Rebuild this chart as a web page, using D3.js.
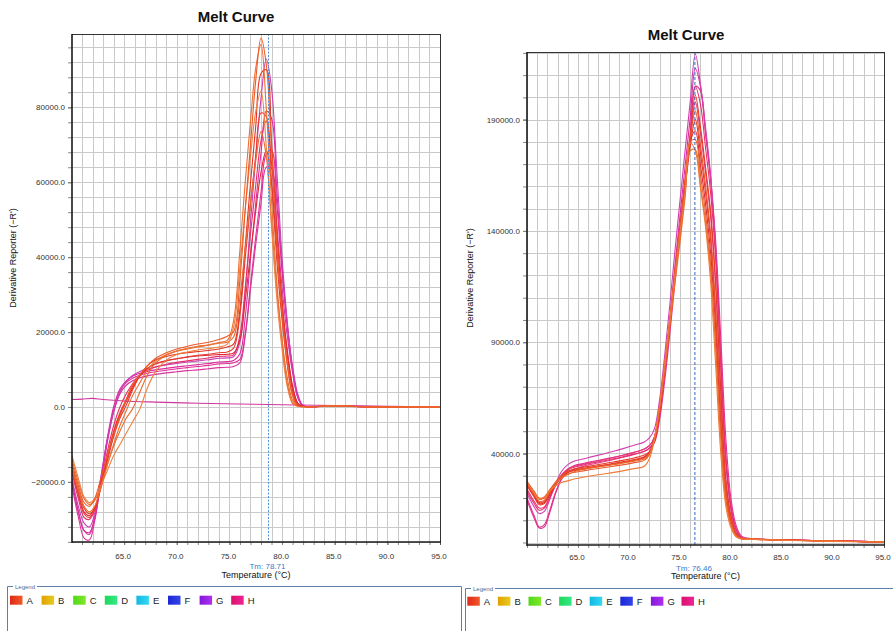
<!DOCTYPE html>
<html><head><meta charset="utf-8">
<script src="https://cdn.jsdelivr.net/npm/d3@7"></script>
<style>
body{margin:0;background:#fff}
svg{display:block}
text{font-family:Arial,"Liberation Sans",sans-serif}
</style>
</head><body>
<svg id="chart" width="893" height="631"></svg>
<script>
// ---------------- DATA ----------------
const chartTitle = "Melt Curve";
const xAxisTitle = "Temperature (°C)";
const yAxisTitle = "Derivative Reporter (\u2212R')";
const xTickLabels = [65, 70, 75, 80, 85, 90, 95];
const leftYTickLabels = [-20000, 0, 20000, 40000, 60000, 80000];
const rightYTickLabels = [40000, 90000, 140000, 190000];
const leftTm = 78.71;
const rightTm = 76.46;
const legendWells = ["A","B","C","D","E","F","G","H"];
const legendColorsFrom = ["#e02818","#e0a000","#50d81a","#1ed858","#12b8e0","#1a28d4","#8418dc","#dc106c"];
const legendColorsTo   = ["#f05a2a","#e8cc20","#80e828","#36e888","#34d8f4","#3444ea","#b030ee","#ee2498"];

// Left panel temperatures (°C)
const leftTemps = [60.05,60.7,61.2,61.7,62.2,62.8,63.4,64.0,64.6,65.2,65.8,66.5,67.2,68,69,70,71,72,73,74,74.8,75.4,76,76.5,77,77.5,78,78.5,79,79.5,80,80.5,81,81.5,82,83,85,88,95];
const leftM1 = [-19000,-27000,-31000,-32000,-28500,-18500,-8500,-1000,4000,6800,8400,9500,10200,10700,11200,11600,12000,12300,12600,13000,13100,13400,17300,30700,49300,66700,82400,92900,85200,63200,39900,22700,9800,2400,300,100,300,100,0];
const leftM2 = [-20000,-28500,-33000,-33500,-29500,-19000,-8500,0,4800,7000,8200,9000,9500,9900,10300,10700,11000,11300,11600,12000,12100,12400,14200,23900,39500,54400,67800,79000,77000,57900,37400,21900,10200,2800,300,100,300,100,0];
const leftM3 = [-21000,-30000,-35000,-35500,-30500,-19500,-9000,-1000,4200,6500,7700,8500,9000,9400,9800,10200,10500,10800,11100,11500,11600,11800,12700,19500,32500,45500,57300,67500,68500,54200,36100,21600,10800,3400,400,100,300,100,0];
const leftM4 = [-19500,-28500,-33000,-34000,-30000,-20000,-9500,-1500,3500,5800,7000,7800,8300,8700,9100,9400,9700,9900,10200,10500,10600,10800,11800,18900,31400,43400,54300,64000,63800,48800,31900,18900,9100,2600,300,100,300,100,0];
const leftR1 = [-16000,-22500,-27000,-28500,-27000,-21500,-14500,-8000,-3000,500,4500,8500,11000,12600,13500,14100,14500,14800,15100,15500,16000,16800,26100,42900,59700,75000,89000,90000,70900,47300,28200,14100,4400,600,150,100,300,100,0];
const leftR2 = [-17000,-24000,-28500,-29500,-27500,-21000,-13500,-6500,-1500,2000,5500,8500,10300,11500,12300,12900,13400,13800,14100,14500,14700,15700,24600,39700,54100,67200,78500,77500,60000,39200,23200,11200,3200,400,120,100,300,100,0];
const leftR3 = [-17500,-25000,-29500,-30000,-27500,-20000,-12000,-5000,0,3500,6200,8500,9800,10700,11400,11900,12300,12700,13100,13500,13600,13900,19200,31700,46200,59200,71100,76400,65100,45700,27900,15100,5500,1000,200,100,300,100,0];
const leftR4 = [-16500,-23500,-28000,-29000,-27000,-21000,-13500,-7000,-2000,1500,5000,8200,10300,11600,12400,12900,13300,13600,13800,14000,14100,14400,18000,28400,40900,52400,62700,68500,59600,42500,26000,14400,5500,1000,200,100,300,100,0];
const leftO1 = [-15000,-21500,-25500,-26500,-24500,-19000,-13000,-7500,-2500,2000,6000,8500,11000,13000,14500,15500,16200,16800,17300,18000,18900,20100,34100,52600,70000,87200,98500,91500,69100,44200,25500,11500,3000,300,100,100,250,80,0];
const leftO2 = [-16500,-22500,-26500,-28000,-26500,-21500,-15500,-10000,-5000,-1000,3000,6500,9800,12300,14000,15000,15700,16200,16600,17200,17800,23100,42000,60000,76300,90500,96800,79700,55100,33400,17700,6200,1100,200,100,100,300,100,0];
const leftO3 = [-13000,-19500,-24000,-25500,-24500,-21000,-17000,-13000,-10000,-7000,-4000,-500,5000,9500,12500,14000,14700,15200,15600,16000,16800,21300,37400,52800,66800,78900,84300,69500,48000,29100,15400,5400,900,200,100,100,300,100,0];
const leftO4 = [-14000,-20500,-24500,-26000,-25000,-21000,-15500,-10500,-6500,-3000,-500,4000,8500,11800,13800,14900,15500,16000,16500,17000,17300,18700,29300,42400,54600,65700,73500,67000,49700,31400,17900,7700,1800,300,100,100,300,100,0];
// no-template control (flat line) in left panel
const ntcTemps = [60.05,61,62,63,65,68,72,76,80,85,90,95];
const ntcValues = [2000,2100,2300,2000,1600,1300,1000,800,600,400,200,0];

// Right panel temperatures (°C)
const rightTemps = [60.0,60.7,61.2,61.7,62.2,62.8,63.4,64.0,64.6,65.5,66.5,67.5,68.5,69.5,70.5,71.5,72,72.5,73,73.5,74,74.5,75,75.5,76,76.5,77,77.5,78,78.5,79,79.5,80,80.5,81,82,84,87,90,95];
const rightS1 = [26500,21500,18500,19000,22500,26500,29000,30500,31800,32800,33600,34300,35000,35700,36500,37500,39700,46800,60400,78000,97100,116400,134800,155000,176000,176500,160900,144000,121700,87100,46800,19100,8000,3000,1800,1500,1200,900,600,300];
const rightS2 = [27000,22500,19500,20500,23000,25500,27000,27700,28500,29300,30100,30800,31500,32300,33200,34300,37600,46500,61800,80300,100300,120000,139100,157700,179500,176000,159400,142000,117200,79400,40000,16200,6600,2500,1600,1400,1100,800,500,200];
const rightS3 = [26000,21000,17500,18000,21500,26000,29500,31500,32500,33300,34000,34800,35600,36400,37300,38500,40400,46500,59900,78500,98700,119700,139500,159200,178000,190000,175100,157400,135900,102100,57600,23600,9800,3700,1800,1500,1300,900,600,300];
const rightS4 = [25500,20500,17000,17500,21000,26000,30000,32000,33000,33800,34600,35400,36200,37000,38000,39300,40800,45100,58000,77300,98200,120700,141500,162400,182500,201000,186900,168800,148700,116600,68300,28100,11900,4200,1900,1600,1300,1000,700,300];
const rightS5 = [27000,22500,19500,20000,23000,27000,30000,31800,32600,33200,33900,34500,35200,36000,36900,38000,39900,46200,60000,79200,99900,121600,142000,162200,181600,194000,178800,160700,138800,104300,58800,24100,10000,3700,1800,1500,1200,900,600,300];
const rightS6 = [24000,18500,15500,16000,20000,25500,30000,32500,33800,34800,35800,36700,37600,38600,39700,41000,42400,46000,57500,75700,97100,119900,141700,163100,183900,205000,197000,177600,157300,126700,80300,37300,15700,6000,2300,1600,1300,1000,700,300];
const rightS7 = [19000,11000,6500,7000,13000,22000,29000,33000,34500,35500,36500,37400,38300,39300,40500,42000,43500,47100,59200,78100,100400,124200,146900,169200,190900,213000,205000,184500,163400,131600,83400,38700,16300,6100,2400,1700,1300,1000,700,300];
const rightS8 = [22000,16000,13000,14000,19000,26500,32000,35000,36500,37500,38700,39800,41000,42300,43700,45200,47000,51200,64200,84100,106700,130800,153600,176100,198000,219500,206100,186800,165000,131100,80100,35200,14900,5400,2200,1600,1300,1000,700,300];
const rightS9 = [20000,12000,7000,8000,14000,22500,28500,31500,33000,34200,35300,36300,37300,38400,39600,41000,42300,45000,55100,72600,93700,116600,139100,160900,182300,205000,203000,184000,163800,135200,91600,46200,19500,7700,3000,1700,1300,1000,700,300];
const rightS10 = [26500,21500,18000,18500,22000,26500,29800,31500,32300,33000,33700,34500,35300,36100,37000,38200,40500,47200,60900,79200,99000,119400,138700,157900,180000,185000,169800,152300,130100,95500,52600,21600,8900,3500,1800,1500,1200,900,600,300];
const rightS11 = [27500,23000,20000,20500,23500,27000,29500,30800,31500,32200,32900,33600,34300,35000,35900,36900,39600,46900,61100,79300,99000,119100,138200,157000,180000,181000,165400,148000,125100,89500,48100,19600,8000,3000,1700,1500,1200,900,600,300];
const rightS12 = [23000,17500,14500,15500,20000,26000,30500,33000,34200,35200,36200,37200,38200,39300,40500,42000,43500,47700,60100,78700,98800,120500,140700,160800,180200,198000,184100,166300,146500,114800,67300,27700,11700,4200,1900,1600,1300,1000,700,300];

// ---------------- DRAW ----------------
const svg = d3.select("#chart");
const defs = svg.append("defs");

const leftSeries = [
  {t: ntcTemps, v: ntcValues, c: "#d0379e"},
  {t: leftTemps, v: leftM3, c: "#e4309a"},
  {t: leftTemps, v: leftM4, c: "#d8349e"},
  {t: leftTemps, v: leftM2, c: "#dc2c9c"},
  {t: leftTemps, v: leftM1, c: "#c840b4"},
  {t: leftTemps, v: leftR3, c: "#e8306a"},
  {t: leftTemps, v: leftR4, c: "#e02838"},
  {t: leftTemps, v: leftR2, c: "#e63c30"},
  {t: leftTemps, v: leftR1, c: "#e43424"},
  {t: leftTemps, v: leftO4, c: "#e86a30"},
  {t: leftTemps, v: leftO3, c: "#f08040"},
  {t: leftTemps, v: leftO2, c: "#ec7032"},
  {t: leftTemps, v: leftO1, c: "#ee5a28"}
];
const rightSeries = [
  {t: rightTemps, v: rightS7, c: "#dd2c9a"},
  {t: rightTemps, v: rightS9, c: "#e4308a"},
  {t: rightTemps, v: rightS8, c: "#d040b0"},
  {t: rightTemps, v: rightS12, c: "#e53c78"},
  {t: rightTemps, v: rightS6, c: "#e8306a"},
  {t: rightTemps, v: rightS4, c: "#e43a2a"},
  {t: rightTemps, v: rightS3, c: "#e8321e"},
  {t: rightTemps, v: rightS10, c: "#e02a3a"},
  {t: rightTemps, v: rightS5, c: "#ea5028"},
  {t: rightTemps, v: rightS11, c: "#ea5a2e"},
  {t: rightTemps, v: rightS1, c: "#ec6a2c"},
  {t: rightTemps, v: rightS2, c: "#ee7a36"}
];

function drawPanel(cfg) {
  const g = svg.append("g");
  const x = d3.scaleLinear().domain(cfg.xDomain).range([cfg.x0, cfg.x1]);
  const y = d3.scaleLinear().domain(cfg.yDomain).range([cfg.y1, cfg.y0]);

  // grid
  const vGrid = d3.range(Math.ceil(cfg.xDomain[0]), 95, 1);
  const hGrid = d3.range(Math.ceil(cfg.yDomain[0] / cfg.gridStep) * cfg.gridStep, cfg.yDomain[1], cfg.gridStep);
  g.append("g").selectAll("line").data(vGrid).join("line")
    .attr("x1", d => Math.round(x(d)) + 0.5).attr("x2", d => Math.round(x(d)) + 0.5)
    .attr("y1", cfg.y0).attr("y2", cfg.y1)
    .attr("stroke", "#c9c9c9").attr("stroke-width", 1);
  g.append("g").selectAll("line").data(hGrid).join("line")
    .attr("y1", d => Math.round(y(d)) + 0.5).attr("y2", d => Math.round(y(d)) + 0.5)
    .attr("x1", cfg.x0).attr("x2", cfg.x1)
    .attr("stroke", "#c9c9c9").attr("stroke-width", 1);

  if (cfg.markT) {
    g.append("line")
      .attr("x1", Math.round(x(cfg.markT)) + 0.5).attr("x2", Math.round(x(cfg.markT)) + 0.5)
      .attr("y1", cfg.y0).attr("y2", cfg.y1)
      .attr("stroke", "#dcc0c4").attr("stroke-width", 1);
  }

  // clip
  const clipId = "clip" + cfg.id;
  defs.append("clipPath").attr("id", clipId).append("rect")
    .attr("x", cfg.x0).attr("y", cfg.y0).attr("width", cfg.x1 - cfg.x0).attr("height", cfg.y1 - cfg.y0);

  const line = d3.line().curve(d3.curveCatmullRom.alpha(0.5));
  const curves = g.append("g").attr("clip-path", `url(#${clipId})`);
  cfg.series.forEach(s => {
    curves.append("path")
      .attr("d", line(s.t.map((t, i) => [x(t), y(s.v[i])])))
      .attr("fill", "none").attr("stroke", s.c).attr("stroke-width", 1.1)
      .attr("stroke-linejoin", "round");
  });

  // Tm line
  g.append("line")
    .attr("x1", x(cfg.tm)).attr("x2", x(cfg.tm))
    .attr("y1", cfg.y0).attr("y2", cfg.y1)
    .attr("stroke", cfg.tmColor).attr("stroke-width", 1)
    .attr("stroke-dasharray", cfg.tmDash);

  // axes
  const yAxis = d3.axisLeft(y).tickValues(cfg.yLabels).tickFormat(d3.format(".1f")).tickSize(4).tickPadding(3);
  const ya = g.append("g").attr("transform", `translate(${cfg.x0},0)`).call(yAxis);
  ya.select(".domain").remove();
  ya.selectAll("text").attr("font-size", 8).attr("fill", "#333").attr("font-family", "Arial, 'Liberation Sans', sans-serif");
  ya.selectAll("line").attr("stroke", "#555");
  const yMinor = d3.axisLeft(y).tickValues(hGrid).tickFormat("").tickSize(4);
  const ym = g.append("g").attr("transform", `translate(${cfg.x0},0)`).call(yMinor);
  ym.select(".domain").remove();
  ym.selectAll("line").attr("stroke", "#888");

  const xAxis = d3.axisBottom(x).tickValues(xTickLabels).tickFormat(d3.format(".1f")).tickSize(3).tickPadding(cfg.xPad);
  const xa = g.append("g").attr("transform", `translate(0,${cfg.y1})`).call(xAxis);
  xa.select(".domain").remove();
  xa.selectAll("text").attr("font-size", 8).attr("fill", "#333").attr("dx", -1.5).attr("font-family", "Arial, 'Liberation Sans', sans-serif");
  xa.selectAll("line").attr("stroke", "#555");
  const xMinor = d3.axisBottom(x).tickValues(vGrid).tickFormat("").tickSize(3);
  const xm = g.append("g").attr("transform", `translate(0,${cfg.y1})`).call(xMinor);
  xm.select(".domain").remove();
  xm.selectAll("line").attr("stroke", "#888");

  // border
  g.append("line").attr("x1", cfg.x0).attr("x2", cfg.x1).attr("y1", cfg.y0 + 0.5).attr("y2", cfg.y0 + 0.5).attr("stroke", "#333").attr("stroke-width", 1);
  g.append("line").attr("x1", cfg.x1 + 0.5).attr("x2", cfg.x1 + 0.5).attr("y1", cfg.y0).attr("y2", cfg.y1).attr("stroke", "#333").attr("stroke-width", 1);
  g.append("line").attr("x1", cfg.x0).attr("x2", cfg.x0).attr("y1", cfg.y0).attr("y2", cfg.y1 + 1).attr("stroke", "#1a1a1a").attr("stroke-width", 1.6);
  g.append("line").attr("x1", cfg.x0).attr("x2", cfg.x1 + 1).attr("y1", cfg.y1).attr("y2", cfg.y1).attr("stroke", "#1a1a1a").attr("stroke-width", 1.6);

  // titles
  g.append("text").attr("x", cfg.titleX).attr("y", cfg.titleY)
    .attr("text-anchor", "middle").attr("font-size", 15).attr("font-weight", "bold").attr("fill", "#111")
    .text(chartTitle);
  g.append("text").attr("x", x(cfg.tm) - 1).attr("y", cfg.tmLabelY)
    .attr("text-anchor", "middle").attr("font-size", 8).attr("fill", "#3c78c8")
    .text("Tm: " + cfg.tm.toFixed(2));
  g.append("text").attr("x", (cfg.x0 + cfg.x1) / 2).attr("y", cfg.xTitleY)
    .attr("text-anchor", "middle").attr("font-size", 9).attr("fill", "#111")
    .text(xAxisTitle);
  g.append("text")
    .attr("transform", `translate(${cfg.yTitleX},${cfg.yTitleY}) rotate(-90)`)
    .attr("text-anchor", "middle").attr("font-size", 9).attr("fill", "#111")
    .text(yAxisTitle);
}

drawPanel({
  id: "L", x0: 72, x1: 440, y0: 34, y1: 542,
  xDomain: [60.05, 95], yDomain: [-36040, 99570], gridStep: 4000,
  yLabels: leftYTickLabels, series: leftSeries, tm: leftTm,
  tmColor: "#4a8fd8", tmDash: "2,1.5", markT: 78, xPad: 8,
  titleX: 236, titleY: 22, tmLabelY: 569, xTitleY: 578, yTitleX: 16, yTitleY: 258
});
drawPanel({
  id: "R", x0: 527, x1: 884, y0: 52, y1: 545,
  xDomain: [60.0, 95], yDomain: [-1120, 220400], gridStep: 10000,
  yLabels: rightYTickLabels, series: rightSeries, tm: rightTm,
  tmColor: "#3366c4", tmDash: "3,2", markT: null, xPad: 6,
  titleX: 686, titleY: 40, tmLabelY: 570.5, xTitleY: 579, yTitleX: 473, yTitleY: 278
});

// ---------------- LEGENDS ----------------
legendColorsFrom.forEach((c, i) => {
  const gr = defs.append("linearGradient").attr("id", "lg" + i).attr("x1", "0").attr("x2", "1").attr("y1", "0").attr("y2", "0");
  gr.append("stop").attr("offset", "0").attr("stop-color", c);
  gr.append("stop").attr("offset", "1").attr("stop-color", legendColorsTo[i]);
});

function drawLegend(L) {
  const g = svg.append("g");
  const fc = "#5d7fa8";
  g.append("path")
    .attr("d", `M${L.left + 0.5},631 V${L.top + 0.5} H${L.left + 6}`)
    .attr("fill", "none").attr("stroke", fc).attr("stroke-width", 1);
  g.append("path")
    .attr("d", `M${L.left + 30},${L.top + 0.5} H${L.right + 0.5}` + (L.rightEdge ? ` V631` : ""))
    .attr("fill", "none").attr("stroke", fc).attr("stroke-width", 1);
  g.append("text").attr("x", L.left + 8).attr("y", L.top + 2.5)
    .attr("font-size", 6).attr("fill", "#4a6c9a").text("Legend");
  const item = g.selectAll("g.item").data(legendWells).join("g")
    .attr("transform", (d, i) => `translate(${L.itemX + i * L.step},${L.itemY})`);
  item.append("rect").attr("width", 12.5).attr("height", 9)
    .attr("fill", (d, i) => `url(#lg${i})`);
  item.append("text").attr("x", 16.5).attr("y", 8.3)
    .attr("font-size", 9.5).attr("fill", "#222").text(d => d);
}
drawLegend({left: 7, top: 586, right: 461, rightEdge: true, itemX: 10, itemY: 595.7, step: 31.6});
drawLegend({left: 465, top: 588, right: 893, rightEdge: false, itemX: 467.3, itemY: 596.7, step: 30.6});
</script>
</body></html>
